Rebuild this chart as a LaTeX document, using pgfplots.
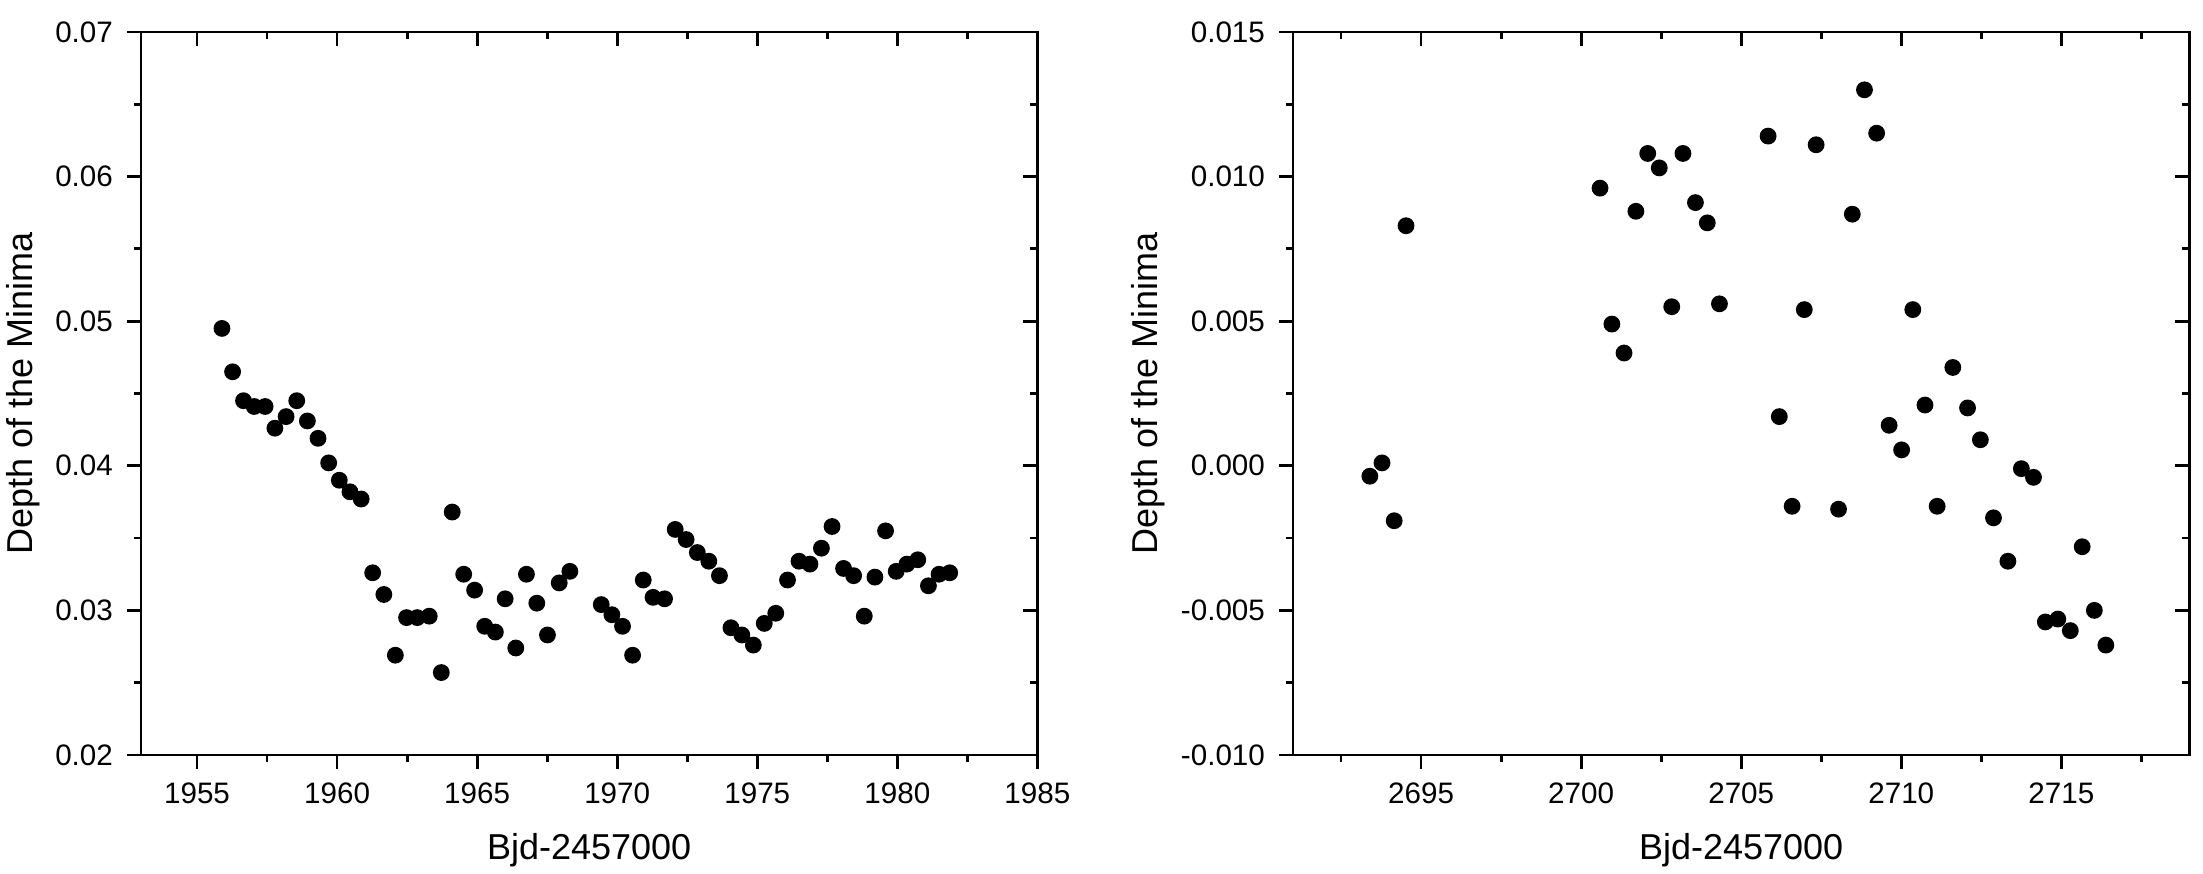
\documentclass[border=0pt]{standalone}
\usepackage{fontspec}
\setmainfont{Liberation Sans}
\usepackage{pgfplots}
\usepackage{pgfplotstable}
\pgfplotsset{compat=1.18}

\pgfplotstableread{
x y
1955.89 0.0495
1956.27 0.0465
1956.66 0.0445
1957.04 0.0441
1957.43 0.0441
1957.78 0.0426
1958.18 0.0434
1958.56 0.0445
1958.94 0.0431
1959.32 0.0419
1959.70 0.0402
1960.08 0.0390
1960.46 0.0382
1960.86 0.0377
1961.27 0.0326
1961.67 0.0311
1962.08 0.0269
1962.48 0.0295
1962.86 0.0295
1963.29 0.0296
1963.72 0.0257
1964.11 0.0368
1964.52 0.0325
1964.91 0.0314
1965.27 0.0289
1965.65 0.0285
1966.00 0.0308
1966.38 0.0274
1966.76 0.0325
1967.13 0.0305
1967.51 0.0283
1967.93 0.0319
1968.31 0.0327
1969.43 0.0304
1969.81 0.0297
1970.19 0.0289
1970.55 0.0269
1970.93 0.0321
1971.28 0.0309
1971.69 0.0308
1972.07 0.0356
1972.46 0.0349
1972.86 0.0340
1973.27 0.0334
1973.65 0.0324
1974.06 0.0288
1974.45 0.0283
1974.86 0.0276
1975.25 0.0291
1975.66 0.0298
1976.08 0.0321
1976.49 0.0334
1976.88 0.0332
1977.29 0.0343
1977.67 0.0358
1978.08 0.0329
1978.44 0.0324
1978.82 0.0296
1979.20 0.0323
1979.58 0.0355
1979.96 0.0327
1980.34 0.0332
1980.73 0.0335
1981.11 0.0317
1981.49 0.0325
1981.87 0.0326
}\leftdata

\pgfplotstableread{
x y
2693.40 -0.00036
2693.78 0.0001
2694.16 -0.0019
2694.53 0.0083
2700.59 0.0096
2700.96 0.0049
2701.34 0.0039
2701.71 0.0088
2702.08 0.0108
2702.44 0.0103
2702.83 0.0055
2703.18 0.0108
2703.57 0.0091
2703.94 0.0084
2704.32 0.0056
2705.84 0.0114
2706.19 0.0017
2706.59 -0.0014
2706.97 0.0054
2707.34 0.0111
2708.04 -0.0015
2708.47 0.0087
2708.85 0.0130
2709.23 0.0115
2709.62 0.0014
2710.01 0.00055
2710.36 0.0054
2710.74 0.0021
2711.12 -0.0014
2711.61 0.0034
2712.07 0.0020
2712.47 0.0009
2712.88 -0.0018
2713.33 -0.0033
2713.75 -0.0001
2714.13 -0.0004
2714.50 -0.0054
2714.89 -0.0053
2715.28 -0.0057
2715.65 -0.0028
2716.03 -0.0050
2716.39 -0.0062
}\rightdata

\pgfplotsset{
  base/.style={
    scale only axis, width=224.1pt, height=180.75pt,
    scaled ticks=false,
    axis line style={line width=0.7pt},
    every tick/.style={line width=0.7pt, black},
    major tick length=3.5pt, minor tick length=1.75pt,
    /pgf/number format/assume math mode=true,
    /pgf/number format/1000 sep={},
    tick label style={font=\fontsize{7.4}{8}\selectfont},
    label style={font=\fontsize{9}{10}\selectfont},
    clip=false,
  },
  front/.style={
    base, tick align=outside, xtick pos=left, ytick pos=left,
  },
  back/.style={
    base, tick align=inside, xtick pos=right, ytick pos=right,
    xticklabels={}, yticklabels={},
  },
  leftlim/.style={
    xmin=1953, xmax=1985, ymin=0.02, ymax=0.07,
    xtick={1955,1960,1965,1970,1975,1980,1985},
    minor xtick={1957.5,1962.5,1967.5,1972.5,1977.5,1982.5},
    ytick={0.02,0.03,0.04,0.05,0.06,0.07},
    minor ytick={0.025,0.035,0.045,0.055,0.065},
  },
  rightlim/.style={
    xmin=2691, xmax=2719, ymin=-0.010, ymax=0.015,
    xtick={2695,2700,2705,2710,2715},
    minor xtick={2692.5,2697.5,2702.5,2707.5,2712.5,2717.5},
    ytick={-0.010,-0.005,0,0.005,0.010,0.015},
    minor ytick={-0.0075,-0.0025,0.0025,0.0075,0.0125},
  },
}

\begin{document}
\begin{tikzpicture}
% left panel
\begin{axis}[back, leftlim, at={(35.25pt,29.75pt)}, anchor=south west]
\end{axis}
\begin{axis}[front, leftlim, at={(35.25pt,29.75pt)}, anchor=south west,
  yticklabel style={/pgf/number format/fixed, /pgf/number format/fixed zerofill, /pgf/number format/precision=2},
  xlabel={Bjd-2457000}, ylabel={Depth of the Minima},
  xlabel style={at={(axis description cs:0.5,-0.108)}, anchor=north, inner sep=0pt},
  ylabel style={at={(axis description cs:-0.1115,0.5)}, anchor=south, inner sep=0pt},
]
\addplot[only marks, mark=*, mark size=1.9pt, black] table[x=x,y=y] {\leftdata};
\end{axis}
% right panel
\begin{axis}[back, rightlim, at={(323.25pt,29.75pt)}, anchor=south west]
\end{axis}
\begin{axis}[front, rightlim, at={(323.25pt,29.75pt)}, anchor=south west,
  yticklabel style={/pgf/number format/fixed, /pgf/number format/fixed zerofill, /pgf/number format/precision=3},
  xlabel={Bjd-2457000}, ylabel={Depth of the Minima},
  xlabel style={at={(axis description cs:0.5,-0.108)}, anchor=north, inner sep=0pt},
  ylabel style={at={(axis description cs:-0.1414,0.5)}, anchor=south, inner sep=0pt},
]
\addplot[only marks, mark=*, mark size=1.9pt, black] table[x=x,y=y] {\rightdata};
\end{axis}
\pgfresetboundingbox
\path (0,0) rectangle (550.75pt,218.5pt);
\end{tikzpicture}
\end{document}
